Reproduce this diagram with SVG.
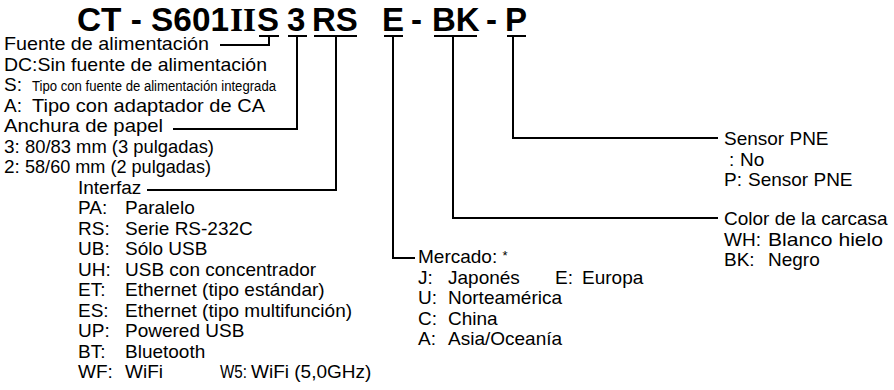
<svg xmlns="http://www.w3.org/2000/svg" width="894" height="390" viewBox="0 0 894 390">
<style>
.t{font-family:"Liberation Sans",Arial,sans-serif;font-size:19px;fill:#000}
.h{font-family:"Liberation Sans",Arial,sans-serif;font-size:33px;font-weight:bold;fill:#000}
.r{font-family:"Liberation Serif","Times New Roman",serif;font-size:33px;font-weight:bold;fill:#000}
.n{font-family:"Liberation Sans",Arial,sans-serif;font-size:14px;fill:#000}
.c{stroke:#000;stroke-width:2;fill:none}
</style>
<rect width="894" height="390" fill="#fff"/>
<g id="title">
<text class="h" x="77" y="31" textLength="152" lengthAdjust="spacingAndGlyphs">CT - S601</text>
<text class="r" x="230" y="31" textLength="26" lengthAdjust="spacingAndGlyphs">II</text>
<text class="h" x="257" y="31">S</text>
<text class="h" x="287" y="31">3</text>
<text class="h" x="312" y="31">RS</text>
<text class="h" x="382" y="31">E</text>
<text class="h" x="411" y="31">-</text>
<text class="h" x="432" y="31">BK</text>
<text class="h" x="486" y="31">-</text>
<text class="h" x="505" y="31">P</text>
</g>
<g id="connectors">
<line class="c" x1="259" y1="36" x2="279" y2="36"/>
<polyline class="c" points="269,36 269,45 220,45"/>
<line class="c" x1="288" y1="36" x2="307" y2="36"/>
<polyline class="c" points="297,36 297,129 173,129"/>
<line class="c" x1="314" y1="36" x2="357" y2="36"/>
<polyline class="c" points="336,36 336,190 147,190"/>
<line class="c" x1="384" y1="36" x2="403" y2="36"/>
<polyline class="c" points="393,36 393,258 415,258"/>
<line class="c" x1="434" y1="36" x2="477" y2="36"/>
<polyline class="c" points="453,36 453,218 718,218"/>
<line class="c" x1="507" y1="36" x2="526" y2="36"/>
<polyline class="c" points="513,36 513,138 718,138"/>
</g>
<g id="fuente">
<text class="t" x="4" y="50" textLength="205" lengthAdjust="spacingAndGlyphs">Fuente de alimentación</text>
<text class="t" x="4" y="70.5" textLength="263" lengthAdjust="spacingAndGlyphs">DC:Sin fuente de alimentación</text>
<text class="t" x="4" y="91">S:</text>
<text class="n" x="32" y="91" textLength="244" lengthAdjust="spacingAndGlyphs">Tipo con fuente de alimentación integrada</text>
<text class="t" x="4" y="111.5">A:</text>
<text class="t" x="32" y="111.5" textLength="233" lengthAdjust="spacingAndGlyphs">Tipo con adaptador de CA</text>
</g>
<g id="anchura">
<text class="t" x="4" y="132" textLength="159" lengthAdjust="spacingAndGlyphs">Anchura de papel</text>
<text class="t" x="4" y="152.5">3:</text>
<text class="t" x="25" y="152.5" textLength="189" lengthAdjust="spacingAndGlyphs">80/83 mm (3 pulgadas)</text>
<text class="t" x="4" y="173">2:</text>
<text class="t" x="25" y="173" textLength="186" lengthAdjust="spacingAndGlyphs">58/60 mm (2 pulgadas)</text>
</g>
<g id="interfaz">
<text class="t" x="78" y="193.5">Interfaz</text>
<text class="t" x="78" y="214">PA:</text><text class="t" x="125" y="214">Paralelo</text>
<text class="t" x="78" y="234.5">RS:</text><text class="t" x="125" y="234.5">Serie RS-232C</text>
<text class="t" x="78" y="255">UB:</text><text class="t" x="125" y="255">Sólo USB</text>
<text class="t" x="78" y="275.5">UH:</text><text class="t" x="125" y="275.5">USB con concentrador</text>
<text class="t" x="78" y="296">ET:</text><text class="t" x="125" y="296">Ethernet (tipo estándar)</text>
<text class="t" x="78" y="316.5">ES:</text><text class="t" x="125" y="316.5">Ethernet (tipo multifunción)</text>
<text class="t" x="78" y="337">UP:</text><text class="t" x="125" y="337">Powered USB</text>
<text class="t" x="78" y="357.5">BT:</text><text class="t" x="125" y="357.5">Bluetooth</text>
<text class="t" x="78" y="378">WF:</text><text class="t" x="125" y="378">WiFi</text>
<text class="t" x="220" y="378" textLength="27" lengthAdjust="spacingAndGlyphs">W5:</text><text class="t" x="251" y="378">WiFi (5,0GHz)</text>
</g>
<g id="mercado">
<text class="t" x="418" y="263">Mercado: <tspan font-size="13" dy="-3">*</tspan></text>
<text class="t" x="418" y="283.5">J:</text><text class="t" x="448" y="283.5">Japonés</text>
<text class="t" x="555" y="283.5">E:</text><text class="t" x="582" y="283.5">Europa</text>
<text class="t" x="418" y="304">U:</text><text class="t" x="448" y="304">Norteamérica</text>
<text class="t" x="418" y="324.5">C:</text><text class="t" x="448" y="324.5">China</text>
<text class="t" x="418" y="345">A:</text><text class="t" x="448" y="345">Asia/Oceanía</text>
</g>
<g id="color">
<text class="t" x="724" y="225">Color de la carcasa</text>
<text class="t" x="724" y="245.5">WH:</text><text class="t" x="768" y="245.5" textLength="115" lengthAdjust="spacingAndGlyphs">Blanco hielo</text>
<text class="t" x="724" y="266">BK:</text><text class="t" x="768" y="266">Negro</text>
</g>
<g id="sensor">
<text class="t" x="724" y="145">Sensor PNE</text>
<text class="t" x="729" y="165.5">:</text><text class="t" x="740" y="165.5">No</text>
<text class="t" x="724" y="186">P:</text><text class="t" x="748" y="186">Sensor PNE</text>
</g>
</svg>
